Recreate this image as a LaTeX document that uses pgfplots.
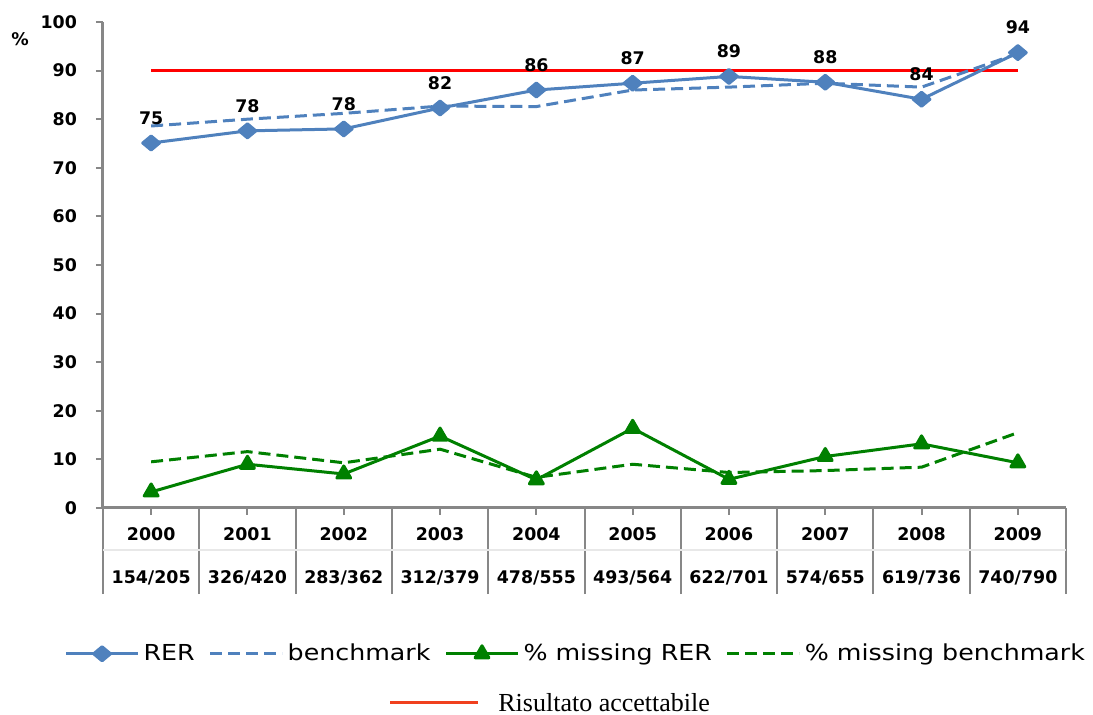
\documentclass[border=0pt]{standalone}
\usepackage{fontspec}
\setmainfont{DejaVu Sans}
\newfontfamily\legfont[FakeStretch=1.15]{DejaVu Sans}
\newfontfamily\capfont{Liberation Serif}
\usepackage{pgfplots}
\usepackage{pgfplotstable}
\pgfplotsset{compat=1.18}

\definecolor{rerblue}{HTML}{4F81BD}
\definecolor{misgreen}{HTML}{008000}
\definecolor{axisgray}{HTML}{878787}
\definecolor{limitred}{HTML}{FF0000}
\definecolor{legred}{HTML}{F0401E}

% year index, RER, benchmark, % missing RER, % missing benchmark, printed RER value
\pgfplotstableread{
x  rer   bench  mrer  mbench lab
0  75.1  78.6   3.3   9.5    75
1  77.6  80.0   9.0   11.6   78
2  78.0  81.2   7.0   9.3    78
3  82.3  82.7   14.8  12.1   82
4  86.0  82.6   5.8   6.3    86
5  87.4  86.0   16.4  9.0    87
6  88.8  86.6   5.9   7.3    89
7  87.6  87.4   10.6  7.7    88
8  84.1  86.6   13.2  8.4    84
9  93.7  93.5   9.3   15.5   94
}\datatable

\newcommand\lblfont{\bfseries\fontsize{8.7}{10.5}\selectfont}

\begin{document}
\begin{tikzpicture}
\useasboundingbox (-51.5pt,-103.5pt) rectangle (495pt,254pt);
\begin{axis}[
  name=ax, at={(0,0)}, anchor=south west,
  scale only axis, width=481.5pt, height=243pt,
  xmin=-0.5, xmax=9.5, ymin=0, ymax=100,
  axis lines=left,
  axis line style={-, axisgray, line width=1.5pt},
  tick style={axisgray, line width=1pt},
  tick align=outside,
  major tick length=3.5pt,
  minor tick length=43pt,
  ytick={0,10,...,100},
  xtick={0,...,9},
  minor xtick={-0.5,0.5,...,9.5},
  xticklabels={{2000\\154/205},{2001\\326/420},{2002\\283/362},{2003\\312/379},{2004\\478/555},{2005\\493/564},{2006\\622/701},{2007\\574/655},{2008\\619/736},{2009\\740/790}},
  x tick label style={align=center, font=\bfseries\fontsize{8.7}{21.5}\selectfont, anchor=north, yshift=-3pt},
  y tick label style={font=\lblfont, xshift=-6pt},
  /pgf/number format/assume math mode=true,
  clip=false,
  legend columns=4,
  legend style={at={(0.492,-0.300)}, anchor=center, draw=none, fill=none,
    font=\legfont\fontsize{11}{13}\selectfont,
    /tikz/every even column/.append style={column sep=5pt}},
  legend cell align=left,
  legend image code/.code={\draw[mark repeat=2, mark phase=2, #1] plot coordinates {(0pt,0pt) (18pt,0pt) (36pt,0pt)};},
]
% acceptance threshold
\addplot[limitred, line width=1.5pt, forget plot] coordinates {(0,90) (9,90)};

\addplot[rerblue, line width=1.5pt, line join=round, mark=diamond*, mark size=3.5pt,
  mark options={solid, xscale=1.6},
  nodes near coords, point meta=explicit symbolic,
  every node near coord/.style={anchor=center, yshift=12.5pt, black, font=\lblfont}]
  table[x=x, y=rer, meta=lab]{\datatable};
\addlegendentry{RER}

\addplot[rerblue, line width=1.5pt, dash pattern=on 6pt off 3pt]
  table[x=x, y=bench]{\datatable};
\addlegendentry{benchmark}

\addplot[misgreen, line width=1.5pt, line join=round, mark=triangle*, mark size=4pt, mark options={solid}]
  table[x=x, y=mrer]{\datatable};
\addlegendentry{\% missing RER}

\addplot[misgreen, line width=1.5pt, dash pattern=on 6pt off 3pt]
  table[x=x, y=mbench]{\datatable};
\addlegendentry{\% missing benchmark}
\end{axis}

% faint rule between year row and counts row
\draw[gray!18, line width=0.6pt] ([yshift=-21pt]ax.south west) -- ([yshift=-21pt]ax.south east);

% unit label
\node[font=\lblfont] at (-41.5pt,234.5pt) {\%};

% second legend row
\draw[legred, line width=1.5pt] (143.5pt,-97.5pt) -- (187.5pt,-97.5pt);
\node[anchor=base west, inner sep=0pt, font=\capfont\fontsize{13}{15}\selectfont] at (197.5pt,-102pt) {Risultato accettabile};
\end{tikzpicture}
\end{document}
